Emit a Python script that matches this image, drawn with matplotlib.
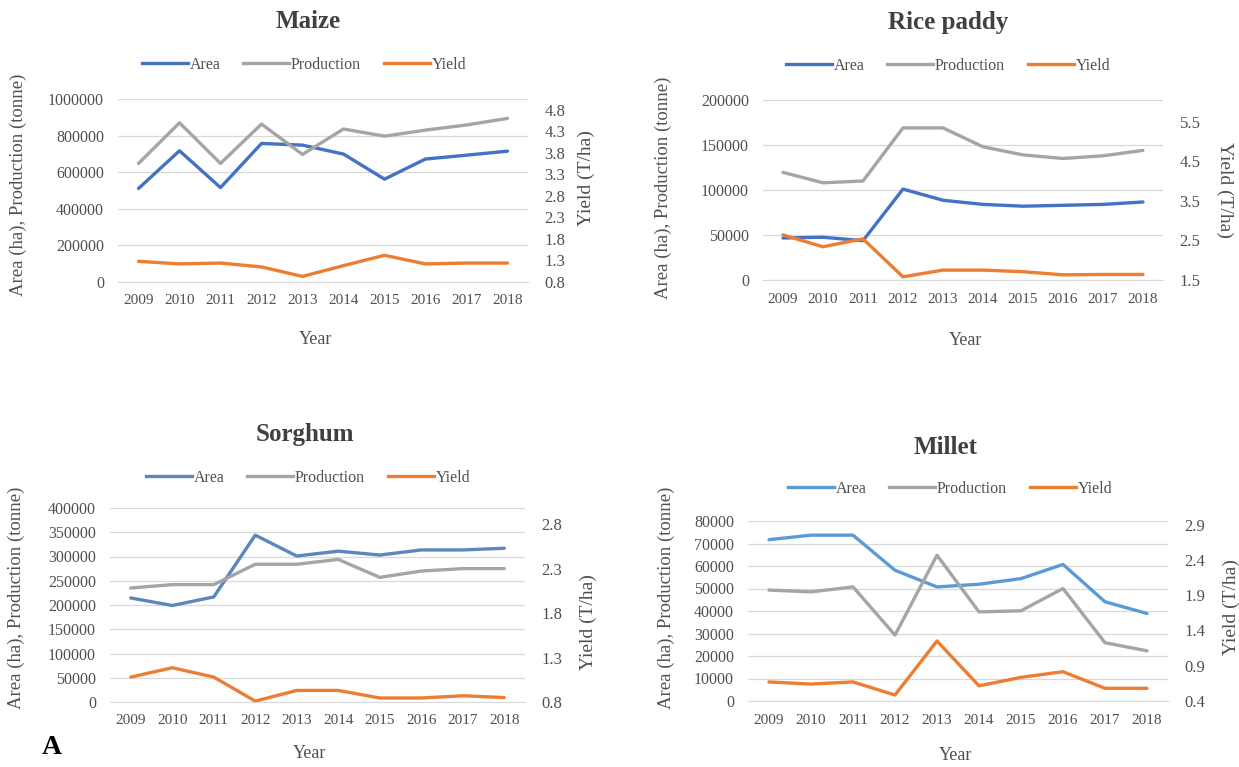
import matplotlib
matplotlib.use("Agg")
import matplotlib.pyplot as plt
from matplotlib.lines import Line2D

plt.rcParams['font.family'] = ['Liberation Serif', 'DejaVu Serif']

years = ['2009', '2010', '2011', '2012', '2013', '2014', '2015', '2016', '2017', '2018']

maize_area = [511000, 717000, 516000, 757000, 748000, 699000, 562000, 672000, 693000, 715000]
maize_prod = [648000, 870000, 648000, 863000, 697000, 836000, 797000, 830000, 858000, 894000]
maize_yield = [1.28, 1.22, 1.24, 1.15, 0.93, 1.18, 1.42, 1.22, 1.24, 1.24]

rice_area = [46700, 47500, 43700, 101000, 88600, 84000, 82000, 83000, 84000, 86700]
rice_prod = [119600, 108000, 110000, 169000, 169000, 148000, 139000, 135000, 138000, 144000]
rice_yield = [2.64, 2.34, 2.54, 1.58, 1.75, 1.75, 1.71, 1.63, 1.64, 1.64]

sorghum_area = [214500, 199000, 216600, 344000, 301000, 311000, 303000, 313500, 313500, 317000]
sorghum_prod = [235000, 242000, 242000, 284000, 284000, 294000, 257000, 270000, 275000, 275000]
sorghum_yield = [1.08, 1.185, 1.08, 0.81, 0.93, 0.93, 0.845, 0.845, 0.87, 0.85]

millet_area = [71700, 73700, 73700, 58100, 50700, 51900, 54400, 60700, 44100, 38900]
millet_prod = [49300, 48500, 50700, 29300, 64800, 39600, 40100, 50000, 25900, 22300]
millet_yield = [0.67, 0.64, 0.67, 0.485, 1.25, 0.615, 0.735, 0.815, 0.58, 0.58]

series_names = ['Area', 'Production', 'Yield']

W, H = 1239, 767
fig = plt.figure(figsize=(W / 100, H / 100), dpi=100)

TXT = '#505050'
GRID = '#D9D9D9'
C_PROD = '#A5A5A5'
C_YIELD = '#ED7D31'


def px_rect(x0, y0, x1, y1):
    return [x0 / W, 1 - y1 / H, (x1 - x0) / W, (y1 - y0) / H]


def fx(x):
    return x / W


def fy(y):
    return 1 - y / H


panels = [
    dict(title='Maize', area=maize_area, prod=maize_prod, yld=maize_yield,
         rect=(118, 99, 528, 282), c_area='#4472C4',
         lim=(0, 1000000), step=200000,
         rlim=(0.8, 5.05), rticks=[0.8, 1.3, 1.8, 2.3, 2.8, 3.3, 3.8, 4.3, 4.8],
         title_xy=(308, 22), leg_xy=(304, 65), year_xy=(316, 340),
         ll_xy=(18, 185), rl_xy=(586, 178), rl_rot=90),
    dict(title='Rice paddy', area=rice_area, prod=rice_prod, yld=rice_yield,
         rect=(763, 100, 1163, 280), c_area='#4472C4',
         lim=(0, 200000), step=50000,
         rlim=(1.5, 6.05), rticks=[1.5, 2.5, 3.5, 4.5, 5.5],
         title_xy=(948, 22), leg_xy=(948, 66), year_xy=(966, 341),
         ll_xy=(663, 188), rl_xy=(1225, 190), rl_rot=-90),
    dict(title='Sorghum', area=sorghum_area, prod=sorghum_prod, yld=sorghum_yield,
         rect=(110, 508, 525, 702), c_area='#5B87BE',
         lim=(0, 400000), step=50000,
         rlim=(0.8, 2.98), rticks=[0.8, 1.3, 1.8, 2.3, 2.8],
         title_xy=(305, 434), leg_xy=(308, 478), year_xy=(310, 753),
         ll_xy=(16, 598), rl_xy=(588, 622), rl_rot=90),
    dict(title='Millet', area=millet_area, prod=millet_prod, yld=millet_yield,
         rect=(748, 521, 1168, 701), c_area='#5B9BD5',
         lim=(0, 80000), step=10000,
         rlim=(0.4, 2.95), rticks=[0.4, 0.9, 1.4, 1.9, 2.4, 2.9],
         title_xy=(946, 448), leg_xy=(950, 489), year_xy=(956, 755),
         ll_xy=(666, 598), rl_xy=(1231, 607), rl_rot=90),
]

x = list(range(len(years)))

for p in panels:
    ax = fig.add_axes(px_rect(*p['rect']))
    ax2 = ax.twinx()
    ax.set_zorder(1)
    ax2.set_zorder(2)
    ax.patch.set_visible(False)
    ax2.patch.set_visible(False)

    ax.plot(x, p['area'], color=p['c_area'], lw=2.4, solid_capstyle='round')
    ax.plot(x, p['prod'], color=C_PROD, lw=2.4, solid_capstyle='round')
    ax2.plot(x, p['yld'], color=C_YIELD, lw=2.4, solid_capstyle='round')

    ax.set_xlim(-0.5, len(years) - 0.5)
    ax.set_ylim(*p['lim'])
    ticks = list(range(p['lim'][0], p['lim'][1] + 1, p['step']))
    ax.set_yticks(ticks)
    ax.set_yticklabels([str(t) for t in ticks])
    ax.set_xticks(x)
    ax.set_xticklabels(years)
    ax2.set_ylim(*p['rlim'])
    ax2.set_yticks(p['rticks'])
    ax2.set_yticklabels([f'{t:.1f}' for t in p['rticks']])

    ax.grid(axis='y', color=GRID, lw=0.9)
    ax.set_axisbelow(True)
    for a in (ax, ax2):
        for s in a.spines.values():
            s.set_visible(False)
        a.tick_params(length=0, colors=TXT)
    ax.spines['bottom'].set_visible(True)
    ax.spines['bottom'].set_color(GRID)
    ax.tick_params(axis='y', pad=10, labelsize=11.5)
    ax.tick_params(axis='x', pad=9, labelsize=11)
    ax2.tick_params(axis='y', pad=12, labelsize=12)

    fig.text(fx(p['title_xy'][0]), fy(p['title_xy'][1]), p['title'],
             ha='center', va='center', fontsize=18, fontweight='bold', color='#404040')
    fig.text(fx(p['year_xy'][0]), fy(p['year_xy'][1]), 'Year',
             ha='center', va='center', fontsize=13, color=TXT)
    fig.text(fx(p['ll_xy'][0]), fy(p['ll_xy'][1]), 'Area (ha), Production (tonne)',
             ha='center', va='center', rotation=90, fontsize=13.5, color=TXT)
    fig.text(fx(p['rl_xy'][0]), fy(p['rl_xy'][1]), 'Yield (T/ha)',
             ha='center', va='center', rotation=p['rl_rot'], fontsize=14, color=TXT)

    handles = [Line2D([], [], color=p['c_area'], lw=2.4),
               Line2D([], [], color=C_PROD, lw=2.4),
               Line2D([], [], color=C_YIELD, lw=2.4)]
    fig.legend(handles, series_names, loc='center',
               bbox_to_anchor=(fx(p['leg_xy'][0]), fy(p['leg_xy'][1])),
               ncol=3, frameon=False, fontsize=11.5, handlelength=2.9,
               handletextpad=0.1, columnspacing=1.4, labelcolor=TXT)

fig.text(fx(52), fy(748), 'A', ha='center', va='center', fontsize=20,
         fontweight='bold', color='black')

fig.savefig('out.png', dpi=100, facecolor='white')
